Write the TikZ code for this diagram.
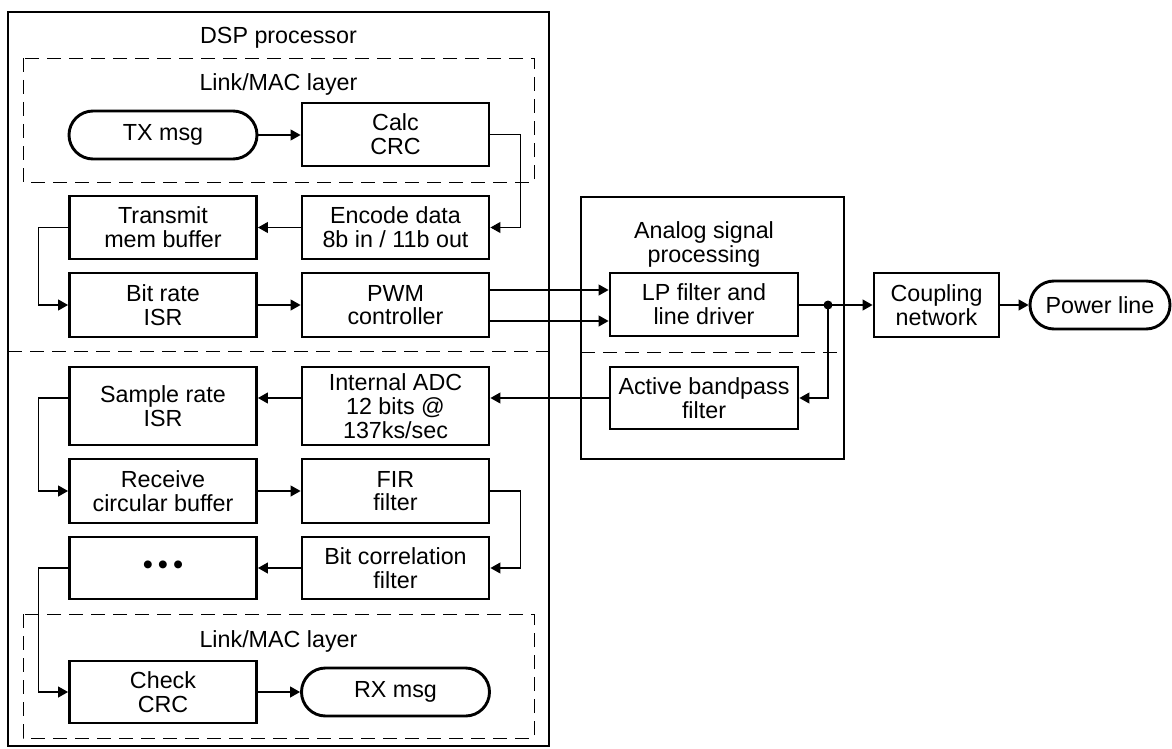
\documentclass[tikz,border=0pt]{standalone}
\usepackage{fontspec}
\setmainfont{Liberation Sans}
\usetikzlibrary{arrows.meta,shapes.misc}
\begin{document}
\begin{tikzpicture}[x=1pt,y=-1pt,
  every node/.style={font=\fontsize{23.3}{23.7}\selectfont, align=center, inner sep=0pt},
  blk/.style={draw, line width=2.9pt, minimum width=187pt, minimum height=63pt},
  term/.style={draw, rounded rectangle, line width=2.9pt, minimum width=188pt, minimum height=48pt},
  conn/.style={line width=1.1pt, -{Triangle[length=10pt,width=11pt]}},
  wire/.style={line width=1.1pt},
  region/.style={draw, dash pattern=on 14pt off 8pt, line width=0.9pt},
  container/.style={draw, line width=2pt},
]
\useasboundingbox (0,0) rectangle (1172,749);

% containers
\draw[container] (7.5,12) rectangle (549,746);
\draw[container, line width=1.7pt] (581,197) rectangle (844,459);
\draw[region] (23,58) rectangle (534,182);
\draw[region] (23,614) rectangle (534,738);
\draw[region] (8,351) -- (549,351);
\draw[region] (581,352) -- (844,352);

% titles
\node[anchor=base] (dsp) at (278.5,44) {DSP processor};
\node[anchor=base] (mac1) at (278.5,91) {Link/MAC layer};
\node[anchor=base] (mac2) at (278.5,647) {Link/MAC layer};
\node (asp) at (704,244.5) {Analog signal\\processing};

% blocks
\node[term] (txm) at (163,135) {TX msg};
\node[blk] (calc) at (395.5,134.5) {Calc\\CRC};
\node[blk] (tmb) at (163,227.5) {Transmit\\mem buffer};
\node[blk] (enc) at (395.5,227.5) {Encode data\\8b in / 11b out};
\node[blk, minimum height=64pt] (bit) at (163,305) {Bit rate\\ISR};
\node[blk, minimum height=64pt] (pwm) at (395.5,305) {PWM\\controller};
\node[blk, minimum height=78pt] (samp) at (163,406) {Sample rate\\ISR};
\node[blk, minimum height=78pt] (adc) at (395.5,406) {Internal ADC\\12 bits @\\137ks/sec};
\node[blk, minimum height=64pt] (recv) at (163,491) {Receive\\circular buffer};
\node[blk, minimum height=64pt] (fir) at (395.5,491) {FIR\\filter};
\node[blk, minimum height=62pt] (dots) at (163,568) {\fontsize{29}{29}\selectfont •\hspace{5pt}•\hspace{5pt}•};
\node[blk, minimum height=62pt] (bc) at (395.5,568) {Bit correlation\\filter};
\node[blk, minimum height=62pt] (chk) at (163,692) {Check\\CRC};
\node[term] (rxm) at (395.5,692) {RX msg};
\node[blk, minimum width=188pt] (lp) at (704,304.5) {LP filter and\\line driver};
\node[blk, minimum width=188pt, minimum height=62pt] (abp) at (704,398) {Active bandpass\\filter};
\node[blk, minimum width=125pt, minimum height=64pt] (coup) at (936.5,305) {Coupling\\network};
\node[term, minimum width=140pt] (pl) at (1100,305) {Power line};

% connectors
\draw[conn] (txm.east) -- (calc.west |- txm.east);
\draw[conn] (calc.east) -- ++(30,0) |- (enc.east);
\draw[conn] (enc.west) -- (tmb.east);
\draw[conn] (tmb.west) -- ++(-30,0) |- (bit.west);
\draw[conn] (bit.east) -- (pwm.west);
\draw[conn] ([yshift=15pt]pwm.east) -- ([yshift=15pt]pwm.east -| lp.west);
\draw[conn] ([yshift=-16pt]pwm.east) -- ([yshift=-16pt]pwm.east -| lp.west);
\coordinate (j) at (828,305);
\draw[wire] (lp.east |- j) -- (j);
\fill (j) circle (4.5pt);
\draw[conn] (j) -- (coup.west);
\draw[conn] (j) |- (abp.east);
\draw[conn] (abp.west) -- (abp.west -| adc.east);
\draw[conn] (adc.west |- abp.west) -- (samp.east |- abp.west);
\draw[conn] (samp.west |- abp.west) -- ++(-30,0) |- (recv.west);
\draw[conn] (recv.east) -- (fir.west);
\draw[conn] (fir.east) -- ++(30,0) |- (bc.east);
\draw[conn] (bc.west) -- (dots.east);
\draw[conn] (dots.west) -- ++(-30,0) |- (chk.west);
\draw[conn] (chk.east) -- (rxm.west);
\draw[conn] (coup.east) -- (pl.west);
\end{tikzpicture}
\end{document}
